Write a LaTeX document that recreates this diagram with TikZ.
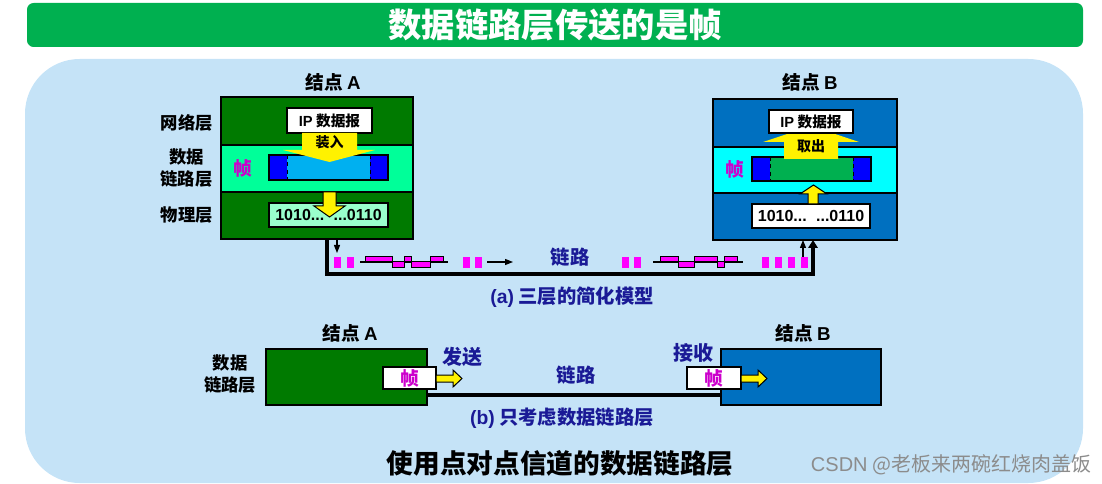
\documentclass[tikz,border=0pt]{standalone}
\usepackage{fontspec}
\setmainfont{Noto Sans CJK SC}
\newfontfamily\lat{Liberation Sans}
\usetikzlibrary{arrows.meta}
\definecolor{panel}{HTML}{C5E3F7}
\definecolor{titlegreen}{HTML}{00B050}
\definecolor{dkgreen}{RGB}{0,122,0}
\definecolor{aqua}{HTML}{00FF99}
\definecolor{mint}{HTML}{99FFCC}
\definecolor{skyb}{HTML}{00B0F0}
\definecolor{pureblue}{HTML}{0000FF}
\definecolor{nodeblue}{HTML}{0070C0}
\definecolor{cyanl}{HTML}{00FFFF}
\definecolor{fgreen}{HTML}{00B050}
\definecolor{mag}{HTML}{FF00FF}
\definecolor{zhen}{HTML}{CC00CC}
\definecolor{navy}{RGB}{26,26,150}
\definecolor{wmgray}{RGB}{140,140,140}
\begin{document}
\begin{tikzpicture}[x=0.75pt,y=-0.75pt,
  box/.style 2 args={draw=black, line width=1.5pt, inner sep=0pt, outer sep=0pt,
     minimum width=#1*0.75pt, minimum height=#2*0.75pt},
  lbl/.style={font=\bfseries\fontsize{13}{16}\selectfont, align=center, inner sep=0pt},
  head/.style={font=\bfseries\fontsize{14}{16}\selectfont, inner sep=0pt},
  navytxt/.style={font=\bfseries\fontsize{14.5}{17}\selectfont, text=navy, inner sep=0pt},
  zhentxt/.style={font=\bfseries\fontsize{14}{16}\selectfont, text=zhen, inner sep=0pt},
  sep/.style={black, line width=0.75pt, dash pattern=on 3pt off 2.5pt},
  tarrow/.style={line width=0.9pt, -{Triangle[length=6pt,width=4.5pt]}},
  thickline/.style={line width=3pt, line join=miter},
  yarrow/.style={fill=yellow, draw=black, line width=0.75pt},
  pulse/.style={fill=mag, draw=black, line width=0.75pt}
]
\useasboundingbox (0,0) rectangle (1102,484);
% panel
\fill[panel, rounded corners=41pt] (25,59) rectangle (1083,483);
% title
\node[fill=titlegreen, rounded corners=5pt, minimum width=1056*0.75pt, minimum height=44*0.75pt,
      inner sep=0pt, text=white, font=\bfseries\fontsize{25}{28}\selectfont] (title) at (555,25) {数据链路层传送的是帧};

% ---------- (a) node A ----------
\node[head] (tA) at (333,82) {结点 {\lat A}};
\node[box={192}{48}, fill=dkgreen] (netA) at (317,121) {};
\node[box={192}{47}, fill=aqua] (dllA) at (317,168.5) {};
\node[box={192}{47}, fill=dkgreen] (phyA) at (317,215.5) {};
\node[lbl, anchor=east] (lnet) at (213,123) {网络层};
\node[lbl] (ldll) at (186.5,168) {数据\\链路层};
\node[lbl, anchor=east] (lphy) at (213,215) {物理层};

\node[box={119}{25}, fill=skyb] (frA) at (328.5,167.5) {};
\fill[pureblue] (frA.north west) rectangle ([xshift=13.5pt]frA.south west);
\fill[pureblue] (frA.north east) rectangle ([xshift=-13.5pt]frA.south east);
\draw[sep] ([xshift=13.5pt]frA.north west) -- ([xshift=13.5pt]frA.south west);
\draw[sep] ([xshift=-13.5pt]frA.north east) -- ([xshift=-13.5pt]frA.south east);
\draw[line width=1.5pt] (frA.north west) rectangle (frA.south east);
\node[zhentxt] (zA) at (243,168) {帧};

\node[box={85}{25}, fill=white, font=\bfseries\fontsize{11}{13}\selectfont] (ipA) at (329.5,120.5) {{\lat IP} 数据报};
\fill[yellow] (302,133) -- (357,133) -- (357,150) -- (375,150) -- (329.5,162) -- (283,150) -- (302,150) -- cycle;
\node[font=\bfseries\fontsize{10.5}{12}\selectfont, inner sep=0pt] (zr) at (329.5,142) {装入};

\node[box={119}{24}, fill=mint, font=\bfseries\fontsize{12}{14}\selectfont] (bitsA) at (328.5,215) {\lat 1010...\hspace{7pt}...0110};
\filldraw[yarrow] (323,192) -- (336,192) -- (336,206) -- (345,206) -- (329.5,217) -- (314,206) -- (323,206) -- cycle;

% ---------- (a) node B ----------
\node[head] (tB) at (810,82) {结点 {\lat B}};
\node[box={184}{48}, fill=nodeblue] (netB) at (805,123) {};
\node[box={184}{46}, fill=cyanl] (dllB) at (805,170) {};
\node[box={184}{47}, fill=nodeblue] (phyB) at (805,216.5) {};

\node[box={119}{24}, fill=fgreen] (frB) at (811.5,169) {};
\fill[pureblue] (frB.north west) rectangle ([xshift=13.5pt]frB.south west);
\fill[pureblue] (frB.north east) rectangle ([xshift=-13.5pt]frB.south east);
\draw[sep] ([xshift=13.5pt]frB.north west) -- ([xshift=13.5pt]frB.south west);
\draw[sep] ([xshift=-13.5pt]frB.north east) -- ([xshift=-13.5pt]frB.south east);
\draw[line width=1.5pt] (frB.north west) rectangle (frB.south east);
\node[zhentxt] (zB) at (735,169) {帧};

\fill[yellow] (784,159) -- (784,142) -- (763,142) -- (811,126) -- (859,142) -- (838,142) -- (838,159) -- cycle;
\node[font=\bfseries\fontsize{10.5}{12}\selectfont, inner sep=0pt] (qc) at (811,146) {取出};
\node[box={84}{23}, fill=white, font=\bfseries\fontsize{11}{13}\selectfont] (ipB) at (811,122) {{\lat IP} 数据报};

\node[box={118}{24}, fill=white, font=\bfseries\fontsize{12}{14}\selectfont] (bitsB) at (811,216) {\lat 1010...\hspace{7pt}...0110};
\filldraw[yarrow] (808,204) -- (808,194) -- (800,194) -- (813.5,185) -- (827,194) -- (818,194) -- (818,204) -- cycle;

% ---------- (a) link ----------
\coordinate (la) at (327,274);
\coordinate (lb) at (813,274);
\draw[thickline, -{Triangle[length=6pt,width=7pt]}] (phyA.south -| la) -- (la) -- (lb) -- (phyB.south -| lb);
\coordinate (ta) at (337,253);
\draw[tarrow] (phyA.south -| ta) -- (ta);
\coordinate (tr1) at (487,262);
\coordinate (tr2) at (513,262);
\draw[tarrow] (tr1) -- (tr2);
\coordinate (tb) at (803,257);
\draw[tarrow] (tb) -- (phyB.south -| tb);

\foreach \x in {334,347,463,475,622,634,762,775,788,801}
  \fill[mag] (\x,257) rectangle ++(7,11);

\draw[line width=1pt] (360,262) -- (448,262);
\draw[pulse] (365,257) rectangle (392,262);
\draw[pulse] (392,262) rectangle (404,268);
\draw[pulse] (404,257) rectangle (411,262);
\draw[pulse] (411,262) rectangle (430,268);
\draw[pulse] (430,257) rectangle (443,262);

\draw[line width=1pt] (653,262) -- (743,262);
\draw[pulse] (660,257) rectangle (678,262);
\draw[pulse] (678,262) rectangle (694,268);
\draw[pulse] (694,257) rectangle (717,262);
\draw[pulse] (717,262) rectangle (724,268);
\draw[pulse] (724,257) rectangle (737,262);

\node[navytxt] (linka) at (570,257) {链路};
\node[navytxt] (capa) at (572,297) {{\lat (a)} 三层的简化模型};

% ---------- (b) ----------
\node[head] (tA2) at (350,333) {结点 {\lat A}};
\node[head] (tB2) at (803,333) {结点 {\lat B}};
\node[lbl] (ldll2) at (230,374) {数据\\链路层};
\node[box={161}{56}, fill=dkgreen] (nA2) at (346.5,377) {};
\node[box={160}{56}, fill=nodeblue] (nB2) at (801,377) {};
\node[box={53}{22}, fill=white, zhentxt] (fA2) at (409.5,378) {帧};
\node[box={54}{22}, fill=white, zhentxt] (fB2) at (714,378) {帧};
\filldraw[yarrow] (fA2.east |- 0,375) -- (453,375) -- (453,370) -- (462,378.5) -- (453,387) -- (453,382) -- (fA2.east |- 0,382) -- cycle;
\filldraw[yarrow] (fB2.east |- 0,375) -- (758,375) -- (758,370) -- (767,378.5) -- (758,387) -- (758,382) -- (fB2.east |- 0,382) -- cycle;
\coordinate (ly) at (0,395);
\draw[thickline] (nA2.east |- ly) -- (nB2.west |- ly);
\node[navytxt, font=\bfseries\fontsize{15}{17}\selectfont] (send) at (462,357) {发送};
\node[navytxt, font=\bfseries\fontsize{15}{17}\selectfont] (recv) at (693,353) {接收};
\node[navytxt] (linkb) at (576,375) {链路};
\node[navytxt] (capb) at (562,418) {{\lat (b)} 只考虑数据链路层};

% ---------- bottom ----------
\node[font=\bfseries\fontsize{20}{22}\selectfont, inner sep=0pt] (bottom) at (560,463) {使用点对点信道的数据链路层};
\node[font=\fontsize{15}{17}\selectfont, text=wmgray, inner sep=0pt] (wm) at (951,465) {{\lat CSDN} @老板来两碗红烧肉盖饭};
\end{tikzpicture}
\end{document}
